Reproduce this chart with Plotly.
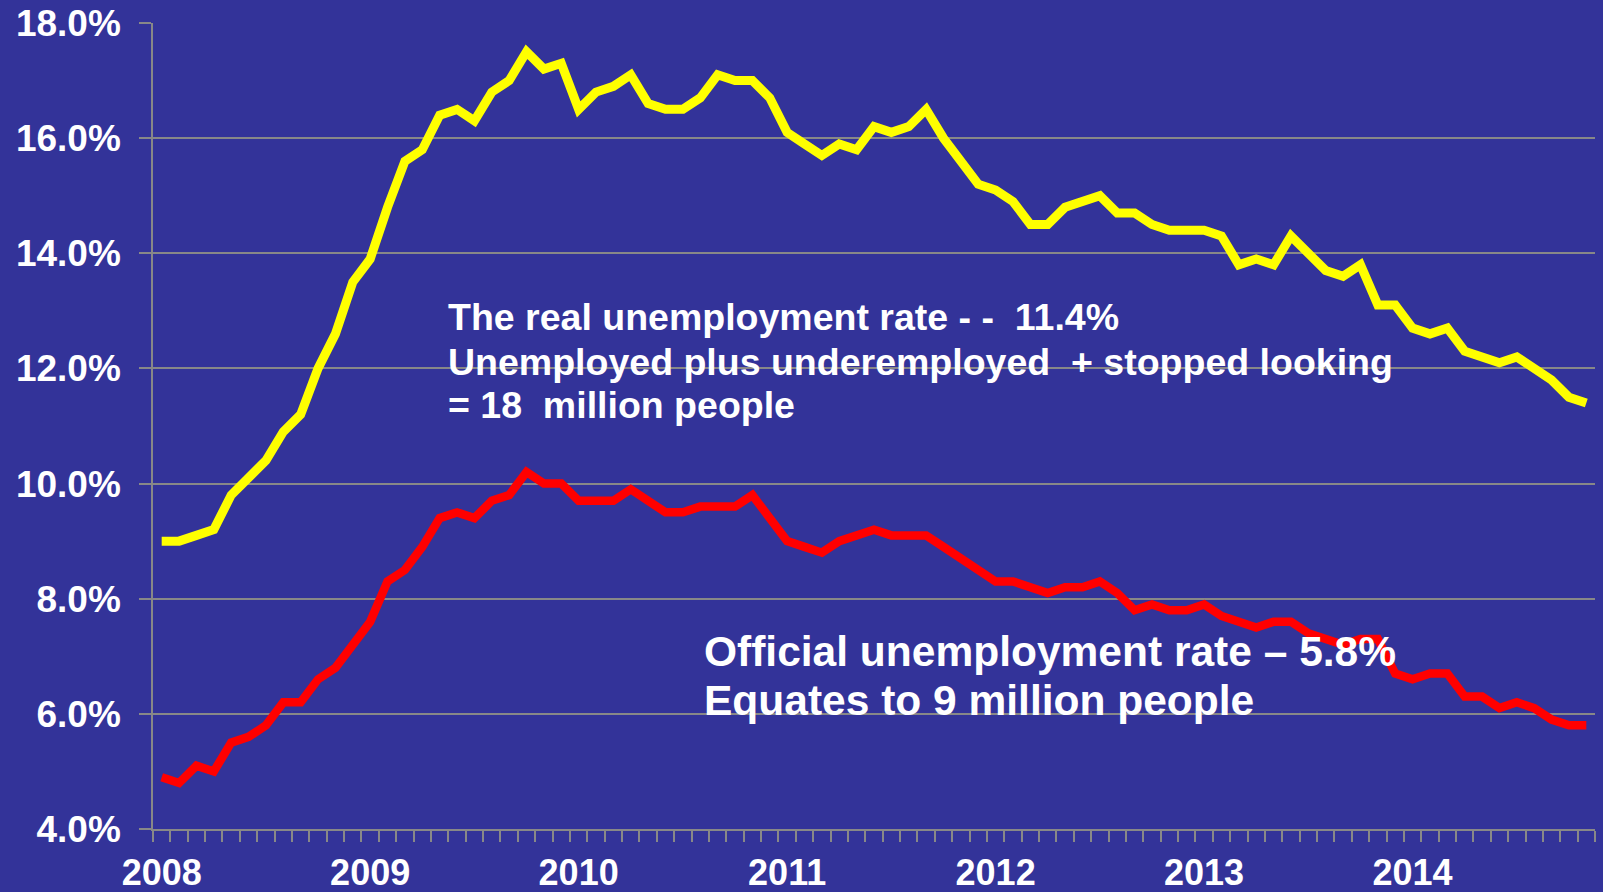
import plotly.graph_objects as go

# ---------------- data ----------------
months = [f"{y}-{m:02d}" for y in range(2008, 2015) for m in range(1, 13)][:83]

official_rate = [
    4.9, 4.8, 5.1, 5.0, 5.5, 5.6, 5.8, 6.2, 6.2, 6.6, 6.8, 7.2,      # 2008
    7.6, 8.3, 8.5, 8.9, 9.4, 9.5, 9.4, 9.7, 9.8, 10.2, 10.0, 10.0,   # 2009
    9.7, 9.7, 9.7, 9.9, 9.7, 9.5, 9.5, 9.6, 9.6, 9.6, 9.8, 9.4,      # 2010
    9.0, 8.9, 8.8, 9.0, 9.1, 9.2, 9.1, 9.1, 9.1, 8.9, 8.7, 8.5,      # 2011
    8.3, 8.3, 8.2, 8.1, 8.2, 8.2, 8.3, 8.1, 7.8, 7.9, 7.8, 7.8,      # 2012
    7.9, 7.7, 7.6, 7.5, 7.6, 7.6, 7.4, 7.3, 7.2, 7.3, 7.3, 6.7,      # 2013
    6.6, 6.7, 6.7, 6.3, 6.3, 6.1, 6.2, 6.1, 5.9, 5.8, 5.8,           # 2014
]

real_rate = [
    9.0, 9.0, 9.1, 9.2, 9.8, 10.1, 10.4, 10.9, 11.2, 12.0, 12.6, 13.5,      # 2008
    13.9, 14.8, 15.6, 15.8, 16.4, 16.5, 16.3, 16.8, 17.0, 17.5, 17.2, 17.3,  # 2009
    16.5, 16.8, 16.9, 17.1, 16.6, 16.5, 16.5, 16.7, 17.1, 17.0, 17.0, 16.7,  # 2010
    16.1, 15.9, 15.7, 15.9, 15.8, 16.2, 16.1, 16.2, 16.5, 16.0, 15.6, 15.2,  # 2011
    15.1, 14.9, 14.5, 14.5, 14.8, 14.9, 15.0, 14.7, 14.7, 14.5, 14.4, 14.4,  # 2012
    14.4, 14.3, 13.8, 13.9, 13.8, 14.3, 14.0, 13.7, 13.6, 13.8, 13.1, 13.1,  # 2013
    12.7, 12.6, 12.7, 12.3, 12.2, 12.1, 12.2, 12.0, 11.8, 11.5, 11.4,        # 2014
]

y_ticks = [4, 6, 8, 10, 12, 14, 16, 18]
y_tick_labels = ["4.0%", "6.0%", "8.0%", "10.0%", "12.0%", "14.0%", "16.0%", "18.0%"]

real_text = [
    "The real unemployment rate - -\u00a0 11.4%",
    "Unemployed plus underemployed\u00a0 + stopped looking",
    "= 18\u00a0 million people",
]
official_text = [
    "Official unemployment rate \u2013 5.8%",
    "Equates to 9 million people",
]

# ---------------- derived positions ----------------
x_pos = list(range(len(months)))
year_pos = [i for i, m in enumerate(months) if m.endswith("-01")]
year_labels = [months[i][:4] for i in year_pos]
month_bounds = [i - 0.5 for i in range(len(months) + 1)]

BG = "#333399"
GRID = "#888888"
FONT = "Liberation Sans, Arial, sans-serif"

W, H = 1603, 892
ML, MR, MT, MB = 153, 8, 23, 63

fig = go.Figure()
fig.add_trace(go.Scatter(x=x_pos, y=real_rate, mode="lines",
                         line=dict(color="#FFFF00", width=9),
                         cliponaxis=False, hoverinfo="skip"))
fig.add_trace(go.Scatter(x=x_pos, y=official_rate, mode="lines",
                         line=dict(color="#FF0000", width=8.5),
                         cliponaxis=False, hoverinfo="skip"))
# invisible carrier so the year-label axis is drawn
fig.add_trace(go.Scatter(x=x_pos, y=real_rate, xaxis="x2", mode="lines",
                         line=dict(width=0), opacity=0, hoverinfo="skip"))

# helper: pixel -> paper coords
def px(xp):
    return (xp - ML) / (W - ML - MR)

def py(yp):
    return (H - MB - yp) / (H - MT - MB)

annots = []
for txt, yc in zip(real_text, [317, 362, 405]):
    annots.append(dict(text=txt, x=px(446), y=py(yc), xref="paper", yref="paper",
                       xanchor="left", yanchor="middle", showarrow=False,
                       font=dict(family=FONT, size=37.5, color="white", weight="bold")))
for txt, yc in zip(official_text, [651, 700]):
    annots.append(dict(text=txt, x=px(702), y=py(yc), xref="paper", yref="paper",
                       xanchor="left", yanchor="middle", showarrow=False,
                       font=dict(family=FONT, size=42.5, color="white", weight="bold")))

fig.update_layout(
    width=W, height=H, autosize=False,
    margin=dict(l=ML, r=MR, t=MT, b=MB, autoexpand=False),
    paper_bgcolor=BG, plot_bgcolor=BG,
    showlegend=False,
    annotations=annots,
    xaxis=dict(range=[-0.5, len(months) - 0.5], tickvals=month_bounds,
               showticklabels=False, ticks="outside", ticklen=11,
               tickcolor=GRID, tickwidth=1.5, showgrid=False, zeroline=False,
               showline=True, linecolor=GRID, linewidth=1.5, automargin=False),
    xaxis2=dict(range=[-0.5, len(months) - 0.5], overlaying="x", anchor="y",
                side="bottom", tickvals=year_pos, ticktext=year_labels,
                ticks="", showgrid=False, zeroline=False, showline=False,
                ticklabelstandoff=19, automargin=False,
                tickfont=dict(family=FONT, size=36, color="white", weight="bold")),
    yaxis=dict(range=[4, 18], tickvals=y_ticks, ticktext=y_tick_labels,
               ticks="outside", ticklen=12, tickcolor=GRID, tickwidth=1.5,
               showgrid=True, gridcolor=GRID, gridwidth=1.5, zeroline=False,
               showline=True, linecolor=GRID, linewidth=1.5,
               ticklabelstandoff=11, automargin=False,
               tickfont=dict(family=FONT, size=37, color="white", weight="bold")),
)

fig.write_html("out.html")
